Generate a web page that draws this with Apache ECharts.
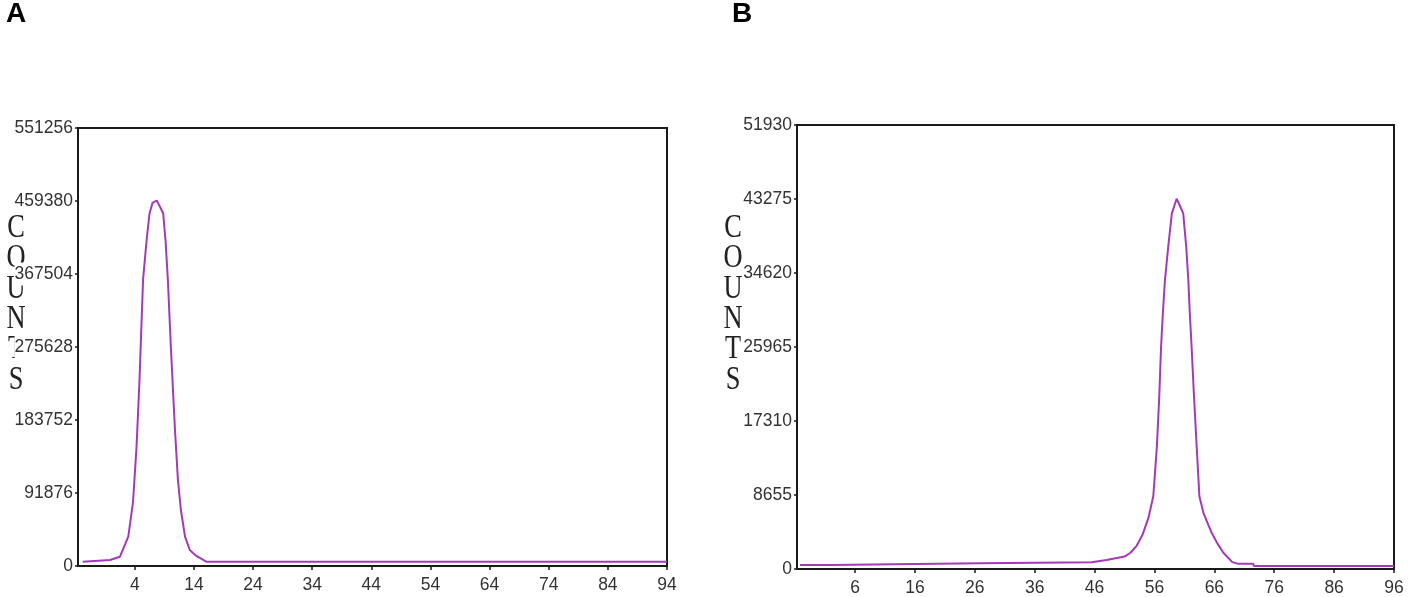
<!DOCTYPE html>
<html>
<head>
<meta charset="utf-8">
<script src="https://cdn.jsdelivr.net/npm/echarts@6/dist/echarts.min.js"></script>
<style>
html,body{margin:0;padding:0;background:#fff;}
#chart{width:1417px;height:597px;}
</style>
</head>
<body>
<div id="chart"></div>
<script>
// Panel A data (channel, counts)
var aX = [-4.8, -0.2, 1.5, 2.9, 3.7, 4.3, 4.8, 5.4, 6.0, 6.5, 7.0, 7.7, 8.2, 8.8, 9.2, 9.6, 10.1, 10.8, 11.3, 11.8, 12.5, 13.3, 14.4, 16.1, 94];
var aY = [5400, 7500, 11700, 36900, 80000, 150000, 234000, 360000, 410000, 444000, 457000, 460000, 453000, 444000, 410000, 360000, 276000, 171000, 108000, 70500, 36900, 20100, 12600, 5400, 5400];
// Panel B data (channel, counts)
var bX = [-3.2, 1.8, 1.9, 26.8, 26.9, 45.5, 45.6, 48.0, 49.5, 51.0, 52.0, 53.0, 54.0, 55.0, 55.8, 56.4, 56.8, 57.1, 57.4, 57.75, 58.3, 58.9, 59.7, 60.3, 60.8, 61.3, 61.65, 61.9, 62.2, 62.6, 63.05, 63.5, 64.2, 65.5, 66.5, 67.5, 69.0, 70.0, 72.5, 72.6, 96];
var bY = [470, 470, 670, 670, 780, 780, 950, 1050, 1250, 1450, 1900, 2700, 4000, 6000, 8500, 14300, 20200, 26000, 29900, 33800, 37700, 41600, 43300, 42400, 41600, 37700, 33800, 29900, 26000, 20200, 14300, 8500, 6500, 4300, 3000, 1900, 800, 600, 600, 350, 350];
// Tick labels
var aTicksX = [4, 14, 24, 34, 44, 54, 64, 74, 84, 94];
var bTicksX = [6, 16, 26, 36, 46, 56, 66, 76, 86, 96];
var aYMax = 551256, aYStep = 91876;
var bYMax = 51930, bYStep = 8655;
var aXRange = [-5.6, 94];
var bXRange = [-3.7, 96];
var panelTitles = ['A', 'B'];
var yName = 'COUNTS';

function pairs(xs, ys) { return xs.map(function (x, i) { return [x, ys[i]]; }); }

var FONT = '"Liberation Sans", Arial, sans-serif';
var LINE = '#a23bb5';
var AX = '#1a1a1a';

function xAxis(gi, range, ticks) {
  return {
    type: 'value', gridIndex: gi, min: range[0], max: range[1],
    splitLine: {show: false},
    axisLine: {show: true, onZero: false, lineStyle: {color: AX, width: 2}},
    axisTick: {show: true, length: 4, lineStyle: {color: AX, width: 1.5}, customValues: ticks},
    axisLabel: {customValues: ticks, color: '#333', fontFamily: FONT, fontSize: 17.5, margin: 10,
      formatter: function (v) { return String(v); }}
  };
}
function yAxis(gi, max, step) {
  return {
    type: 'value', gridIndex: gi, min: 0, max: max, interval: step, z: 5,
    splitLine: {show: false},
    axisLine: {show: true, onZero: false, lineStyle: {color: AX, width: 2}},
    axisTick: {show: true, length: 3, lineStyle: {color: AX, width: 1.5}},
    axisLabel: {color: '#333', fontFamily: FONT, fontSize: 17.5, margin: 5,
      backgroundColor: '#fff', padding: [3, 0, 2, 0],
      formatter: function (v) { return String(v); }}
  };
}
function countsText(cx) {
  return {
    type: 'text', x: cx, y: 213, scaleX: 0.8, z: -1,
    style: {text: yName.split('').join('\n'), fill: '#222',
      font: '33px "Liberation Serif", "Times New Roman", serif',
      lineHeight: 30.4, align: 'center', verticalAlign: 'top'}
  };
}

var chart = echarts.init(document.getElementById('chart'), null, {renderer: 'canvas'});
chart.setOption({
  animation: false,
  backgroundColor: '#fff',
  graphic: [
    countsText(16), countsText(733),
    {type: 'text', x: 6, y: 0, style: {text: panelTitles[0], fill: '#000', font: 'bold 28px ' + FONT}},
    {type: 'text', x: 732, y: 0, style: {text: panelTitles[1], fill: '#000', font: 'bold 28px ' + FONT}}
  ],
  grid: [
    {left: 78, top: 128, width: 589, height: 438, show: true, borderColor: AX, borderWidth: 2, backgroundColor: 'transparent'},
    {left: 797, top: 125, width: 597, height: 444, show: true, borderColor: AX, borderWidth: 2, backgroundColor: 'transparent'}
  ],
  xAxis: [xAxis(0, aXRange, aTicksX), xAxis(1, bXRange, bTicksX)],
  yAxis: [yAxis(0, aYMax, aYStep), yAxis(1, bYMax, bYStep)],
  series: [
    {type: 'line', xAxisIndex: 0, yAxisIndex: 0, data: pairs(aX, aY), showSymbol: false,
      lineStyle: {color: LINE, width: 2}, itemStyle: {color: LINE}},
    {type: 'line', xAxisIndex: 1, yAxisIndex: 1, data: pairs(bX, bY), showSymbol: false,
      lineStyle: {color: LINE, width: 2}, itemStyle: {color: LINE}}
  ]
});
</script>
</body>
</html>
